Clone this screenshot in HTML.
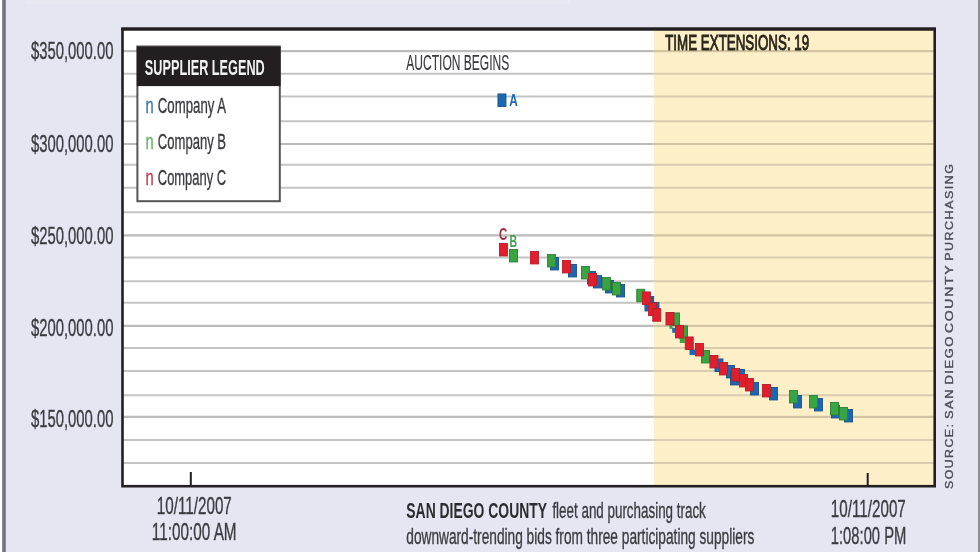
<!DOCTYPE html><html><head><meta charset="utf-8"><title>San Diego County reverse auction bids</title><style>
html,body{margin:0;padding:0;background:#e6e6f2;}body{width:980px;height:552px;overflow:hidden;position:relative;}
svg{position:absolute;left:0;top:0;display:block}
text{font-family:"Liberation Sans",Arial,sans-serif;}
</style></head><body>
<svg width="980" height="552" viewBox="0 0 980 552">
<rect x="0" y="0" width="980" height="552" fill="#e6e6f2"/>
<rect x="0" y="0" width="2.2" height="552" fill="#ffffff"/>
<rect x="2.2" y="0" width="3.6" height="552" fill="#74757c"/>
<rect x="978" y="0" width="2" height="552" fill="#8e8f96"/>
<rect x="25" y="0" width="545" height="4" fill="#e9e9f4"/>
<rect x="122.5" y="29" width="812.2" height="457.2" fill="#ffffff"/>
<rect x="653.8" y="29" width="280.9" height="457.2" fill="#fdf0c9"/>
<line x1="122.5" y1="51.2" x2="653.8" y2="51.2" stroke="#bcbcbc" stroke-width="2.2"/>
<line x1="653.8" y1="51.2" x2="934.7" y2="51.2" stroke="#d2c3a3" stroke-width="2.2"/>
<line x1="122.5" y1="73.8" x2="653.8" y2="73.8" stroke="#c4c4c4" stroke-width="2"/>
<line x1="653.8" y1="73.8" x2="934.7" y2="73.8" stroke="#d9cbad" stroke-width="2"/>
<line x1="122.5" y1="96.6" x2="653.8" y2="96.6" stroke="#c4c4c4" stroke-width="2"/>
<line x1="653.8" y1="96.6" x2="934.7" y2="96.6" stroke="#d9cbad" stroke-width="2"/>
<line x1="122.5" y1="121.2" x2="653.8" y2="121.2" stroke="#c4c4c4" stroke-width="2"/>
<line x1="653.8" y1="121.2" x2="934.7" y2="121.2" stroke="#d9cbad" stroke-width="2"/>
<line x1="122.5" y1="144.0" x2="653.8" y2="144.0" stroke="#bcbcbc" stroke-width="2.2"/>
<line x1="653.8" y1="144.0" x2="934.7" y2="144.0" stroke="#d2c3a3" stroke-width="2.2"/>
<line x1="122.5" y1="164.8" x2="653.8" y2="164.8" stroke="#c4c4c4" stroke-width="2"/>
<line x1="653.8" y1="164.8" x2="934.7" y2="164.8" stroke="#d9cbad" stroke-width="2"/>
<line x1="122.5" y1="187.8" x2="653.8" y2="187.8" stroke="#c4c4c4" stroke-width="2"/>
<line x1="653.8" y1="187.8" x2="934.7" y2="187.8" stroke="#d9cbad" stroke-width="2"/>
<line x1="122.5" y1="212.3" x2="653.8" y2="212.3" stroke="#c4c4c4" stroke-width="2"/>
<line x1="653.8" y1="212.3" x2="934.7" y2="212.3" stroke="#d9cbad" stroke-width="2"/>
<line x1="122.5" y1="235.3" x2="653.8" y2="235.3" stroke="#bcbcbc" stroke-width="2.2"/>
<line x1="653.8" y1="235.3" x2="934.7" y2="235.3" stroke="#d2c3a3" stroke-width="2.2"/>
<line x1="122.5" y1="257.6" x2="653.8" y2="257.6" stroke="#c4c4c4" stroke-width="2"/>
<line x1="653.8" y1="257.6" x2="934.7" y2="257.6" stroke="#d9cbad" stroke-width="2"/>
<line x1="122.5" y1="281.2" x2="653.8" y2="281.2" stroke="#c4c4c4" stroke-width="2"/>
<line x1="653.8" y1="281.2" x2="934.7" y2="281.2" stroke="#d9cbad" stroke-width="2"/>
<line x1="122.5" y1="302.7" x2="653.8" y2="302.7" stroke="#c4c4c4" stroke-width="2"/>
<line x1="653.8" y1="302.7" x2="934.7" y2="302.7" stroke="#d9cbad" stroke-width="2"/>
<line x1="122.5" y1="325.9" x2="653.8" y2="325.9" stroke="#bcbcbc" stroke-width="2.2"/>
<line x1="653.8" y1="325.9" x2="934.7" y2="325.9" stroke="#d2c3a3" stroke-width="2.2"/>
<line x1="122.5" y1="347.9" x2="653.8" y2="347.9" stroke="#c4c4c4" stroke-width="2"/>
<line x1="653.8" y1="347.9" x2="934.7" y2="347.9" stroke="#d9cbad" stroke-width="2"/>
<line x1="122.5" y1="371.1" x2="653.8" y2="371.1" stroke="#c4c4c4" stroke-width="2"/>
<line x1="653.8" y1="371.1" x2="934.7" y2="371.1" stroke="#d9cbad" stroke-width="2"/>
<line x1="122.5" y1="395.2" x2="653.8" y2="395.2" stroke="#c4c4c4" stroke-width="2"/>
<line x1="653.8" y1="395.2" x2="934.7" y2="395.2" stroke="#d9cbad" stroke-width="2"/>
<line x1="122.5" y1="416.8" x2="653.8" y2="416.8" stroke="#bcbcbc" stroke-width="2.2"/>
<line x1="653.8" y1="416.8" x2="934.7" y2="416.8" stroke="#d2c3a3" stroke-width="2.2"/>
<line x1="122.5" y1="440.0" x2="653.8" y2="440.0" stroke="#c4c4c4" stroke-width="2"/>
<line x1="653.8" y1="440.0" x2="934.7" y2="440.0" stroke="#d9cbad" stroke-width="2"/>
<line x1="122.5" y1="463.0" x2="653.8" y2="463.0" stroke="#c4c4c4" stroke-width="2"/>
<line x1="653.8" y1="463.0" x2="934.7" y2="463.0" stroke="#d9cbad" stroke-width="2"/>
<rect x="122.5" y="29" width="812.2" height="457.2" fill="none" stroke="#231f20" stroke-width="2.6"/>
<rect x="121.2" y="27.4" width="814.8" height="3.2" fill="#231f20"/>
<rect x="189.8" y="472" width="2" height="14" fill="#231f20"/>
<rect x="866.7" y="473" width="2" height="13" fill="#231f20"/>
<text x="31" y="59.2" font-size="24.8" fill="#3b3b40" stroke="#3b3b40" stroke-width="0.35" textLength="82.5" lengthAdjust="spacingAndGlyphs">$350,000.00</text>
<text x="31" y="152" font-size="24.8" fill="#3b3b40" stroke="#3b3b40" stroke-width="0.35" textLength="82.5" lengthAdjust="spacingAndGlyphs">$300,000.00</text>
<text x="31" y="243.5" font-size="24.8" fill="#3b3b40" stroke="#3b3b40" stroke-width="0.35" textLength="82.5" lengthAdjust="spacingAndGlyphs">$250,000.00</text>
<text x="31" y="335.7" font-size="24.8" fill="#3b3b40" stroke="#3b3b40" stroke-width="0.35" textLength="82.5" lengthAdjust="spacingAndGlyphs">$200,000.00</text>
<text x="31" y="427" font-size="24.8" fill="#3b3b40" stroke="#3b3b40" stroke-width="0.35" textLength="82.5" lengthAdjust="spacingAndGlyphs">$150,000.00</text>
<rect x="137.4" y="46.5" width="142.4" height="154.7" fill="#ffffff" stroke="#555558" stroke-width="2"/>
<rect x="136.8" y="46.6" width="143.8" height="39.5" fill="#231f20"/>
<text x="144.8" y="75.2" font-size="22" font-weight="bold" fill="#f2f2f2" textLength="120" lengthAdjust="spacingAndGlyphs">SUPPLIER LEGEND</text>
<text x="145.5" y="112.7" font-size="22" fill="#3a78b0" stroke="#3a78b0" stroke-width="0.35" textLength="8.2" lengthAdjust="spacingAndGlyphs">n</text>
<text x="157.8" y="112.7" font-size="22" fill="#3b3b40" stroke="#3b3b40" stroke-width="0.35" textLength="68.3" lengthAdjust="spacingAndGlyphs">Company A</text>
<text x="145.5" y="148.7" font-size="22" fill="#66b566" stroke="#66b566" stroke-width="0.35" textLength="8.2" lengthAdjust="spacingAndGlyphs">n</text>
<text x="157.8" y="148.7" font-size="22" fill="#3b3b40" stroke="#3b3b40" stroke-width="0.35" textLength="68.3" lengthAdjust="spacingAndGlyphs">Company B</text>
<text x="145.5" y="184.7" font-size="22" fill="#c43c4b" stroke="#c43c4b" stroke-width="0.35" textLength="8.2" lengthAdjust="spacingAndGlyphs">n</text>
<text x="157.8" y="184.7" font-size="22" fill="#3b3b40" stroke="#3b3b40" stroke-width="0.35" textLength="68.3" lengthAdjust="spacingAndGlyphs">Company C</text>
<text x="406.3" y="70.2" font-size="22.8" fill="#3b3b40" stroke="#3b3b40" stroke-width="0.15" textLength="103" lengthAdjust="spacingAndGlyphs">AUCTION BEGINS</text>
<text x="665.2" y="49.8" font-size="22.6" fill="#2a2519" stroke="#2a2519" stroke-width="1" textLength="144" lengthAdjust="spacingAndGlyphs">TIME EXTENSIONS: 19</text>
<text x="156.8" y="514" font-size="24" fill="#3b3b40" stroke="#3b3b40" stroke-width="0.35" textLength="75" lengthAdjust="spacingAndGlyphs">10/11/2007</text>
<text x="151.8" y="539.8" font-size="24" fill="#3b3b40" stroke="#3b3b40" stroke-width="0.35" textLength="84.8" lengthAdjust="spacingAndGlyphs">11:00:00 AM</text>
<text x="830.8" y="517.4" font-size="24" fill="#3b3b40" stroke="#3b3b40" stroke-width="0.35" textLength="75" lengthAdjust="spacingAndGlyphs">10/11/2007</text>
<text x="830.8" y="543.6" font-size="24" fill="#3b3b40" stroke="#3b3b40" stroke-width="0.35" textLength="75.5" lengthAdjust="spacingAndGlyphs">1:08:00 PM</text>
<text x="406.3" y="518" font-size="21.3" font-weight="bold" fill="#2b2b30" textLength="140.8" lengthAdjust="spacingAndGlyphs">SAN DIEGO COUNTY</text>
<text x="552.4" y="518" font-size="21.3" fill="#3b3b40" stroke="#3b3b40" stroke-width="0.35" textLength="153.4" lengthAdjust="spacingAndGlyphs">fleet and purchasing track</text>
<text x="406.3" y="543.5" font-size="21.3" fill="#3b3b40" stroke="#3b3b40" stroke-width="0.35" textLength="348" lengthAdjust="spacingAndGlyphs">downward-trending bids from three participating suppliers</text>
<text transform="translate(953.3,489) rotate(-90)" x="0" y="0" font-size="10.2" fill="#4c4c57" stroke="#4c4c57" stroke-width="0.35" letter-spacing="1.2" textLength="66.4" lengthAdjust="spacingAndGlyphs">SOURCE:</text>
<text transform="translate(953.3,419) rotate(-90)" x="0" y="0" font-size="10.2" fill="#4c4c57" stroke="#4c4c57" stroke-width="0.35" letter-spacing="1.2" textLength="31" lengthAdjust="spacingAndGlyphs">SAN</text>
<text transform="translate(953.3,384.6) rotate(-90)" x="0" y="0" font-size="10.2" fill="#4c4c57" stroke="#4c4c57" stroke-width="0.35" letter-spacing="1.2" textLength="49.6" lengthAdjust="spacingAndGlyphs">DIEGO</text>
<text transform="translate(953.3,333) rotate(-90)" x="0" y="0" font-size="10.2" fill="#4c4c57" stroke="#4c4c57" stroke-width="0.35" letter-spacing="1.2" textLength="69.2" lengthAdjust="spacingAndGlyphs">COUNTY</text>
<text transform="translate(953.3,260.8) rotate(-90)" x="0" y="0" font-size="10.2" fill="#4c4c57" stroke="#4c4c57" stroke-width="0.35" letter-spacing="1.2" textLength="98.2" lengthAdjust="spacingAndGlyphs">PURCHASING</text>
<rect x="550.45" y="257.45" width="8" height="12.5" fill="#1c68b0" stroke="#1a508c" stroke-width="0.9"/>
<rect x="568.45" y="264.45" width="8" height="12.5" fill="#1c68b0" stroke="#1a508c" stroke-width="0.9"/>
<rect x="587.45" y="271.45" width="8" height="12.5" fill="#1c68b0" stroke="#1a508c" stroke-width="0.9"/>
<rect x="593.45" y="275.45" width="8" height="12.5" fill="#1c68b0" stroke="#1a508c" stroke-width="0.9"/>
<rect x="605.45" y="280.45" width="8" height="12.5" fill="#1c68b0" stroke="#1a508c" stroke-width="0.9"/>
<rect x="616.45" y="284.45" width="8" height="12.5" fill="#1c68b0" stroke="#1a508c" stroke-width="0.9"/>
<rect x="645.65" y="296.45" width="8" height="12.5" fill="#1c68b0" stroke="#1a508c" stroke-width="0.9"/>
<rect x="650.95" y="302.45" width="8" height="12.5" fill="#1c68b0" stroke="#1a508c" stroke-width="0.9"/>
<rect x="644.95" y="298.45" width="8" height="12.5" fill="#1c68b0" stroke="#1a508c" stroke-width="0.9"/>
<rect x="714.95" y="358.95" width="8" height="12.5" fill="#1c68b0" stroke="#1a508c" stroke-width="0.9"/>
<rect x="726.45" y="365.45" width="8" height="12.5" fill="#1c68b0" stroke="#1a508c" stroke-width="0.9"/>
<rect x="730.45" y="372.45" width="8" height="12.5" fill="#1c68b0" stroke="#1a508c" stroke-width="0.9"/>
<rect x="736.45" y="369.45" width="8" height="12.5" fill="#1c68b0" stroke="#1a508c" stroke-width="0.9"/>
<rect x="750.45" y="382.45" width="8" height="12.5" fill="#1c68b0" stroke="#1a508c" stroke-width="0.9"/>
<rect x="769.45" y="387.45" width="8" height="12.5" fill="#1c68b0" stroke="#1a508c" stroke-width="0.9"/>
<rect x="793.45" y="395.45" width="8" height="12.5" fill="#1c68b0" stroke="#1a508c" stroke-width="0.9"/>
<rect x="814.45" y="398.45" width="8" height="12.5" fill="#1c68b0" stroke="#1a508c" stroke-width="0.9"/>
<rect x="831.45" y="405.45" width="8" height="12.5" fill="#1c68b0" stroke="#1a508c" stroke-width="0.9"/>
<rect x="844.45" y="409.45" width="8" height="12.5" fill="#1c68b0" stroke="#1a508c" stroke-width="0.9"/>
<rect x="497.95" y="93.95" width="8" height="12.5" fill="#1c68b0" stroke="#1a508c" stroke-width="0.9"/>
<rect x="509.45" y="249.45" width="8" height="12.5" fill="#38a442" stroke="#2b8035" stroke-width="0.9"/>
<rect x="547.45" y="254.45" width="8" height="12.5" fill="#38a442" stroke="#2b8035" stroke-width="0.9"/>
<rect x="581.45" y="266.45" width="8" height="12.5" fill="#38a442" stroke="#2b8035" stroke-width="0.9"/>
<rect x="602.45" y="277.45" width="8" height="12.5" fill="#38a442" stroke="#2b8035" stroke-width="0.9"/>
<rect x="612.45" y="282.45" width="8" height="12.5" fill="#38a442" stroke="#2b8035" stroke-width="0.9"/>
<rect x="636.75" y="289.25" width="8" height="12.5" fill="#38a442" stroke="#2b8035" stroke-width="0.9"/>
<rect x="671.45" y="312.95" width="8" height="12.5" fill="#38a442" stroke="#2b8035" stroke-width="0.9"/>
<rect x="679.45" y="325.95" width="8" height="12.5" fill="#38a442" stroke="#2b8035" stroke-width="0.9"/>
<rect x="701.45" y="350.45" width="8" height="12.5" fill="#38a442" stroke="#2b8035" stroke-width="0.9"/>
<rect x="789.45" y="390.45" width="8" height="12.5" fill="#38a442" stroke="#2b8035" stroke-width="0.9"/>
<rect x="809.45" y="395.45" width="8" height="12.5" fill="#38a442" stroke="#2b8035" stroke-width="0.9"/>
<rect x="830.45" y="402.45" width="8" height="12.5" fill="#38a442" stroke="#2b8035" stroke-width="0.9"/>
<rect x="839.45" y="407.45" width="8" height="12.5" fill="#38a442" stroke="#2b8035" stroke-width="0.9"/>
<rect x="669.5" y="325" width="3" height="3.8" fill="#38a442"/>
<rect x="672.2" y="327.8" width="2.8" height="5" fill="#1c68b0"/>
<rect x="679.8" y="338" width="5" height="5" fill="#38a442"/>
<rect x="689.5" y="349.5" width="5.5" height="5.5" fill="#1c68b0"/>
<rect x="499.45" y="243.45" width="8" height="12.5" fill="#e01f2d" stroke="#b81d2b" stroke-width="0.9"/>
<rect x="530.45" y="251.45" width="8" height="12.5" fill="#e01f2d" stroke="#b81d2b" stroke-width="0.9"/>
<rect x="562.45" y="260.45" width="8" height="12.5" fill="#e01f2d" stroke="#b81d2b" stroke-width="0.9"/>
<rect x="588.45" y="273.45" width="8" height="12.5" fill="#e01f2d" stroke="#b81d2b" stroke-width="0.9"/>
<rect x="642.45" y="291.95" width="8" height="12.5" fill="#e01f2d" stroke="#b81d2b" stroke-width="0.9"/>
<rect x="648.45" y="302.95" width="8" height="12.5" fill="#e01f2d" stroke="#b81d2b" stroke-width="0.9"/>
<rect x="652.75" y="308.75" width="8" height="12.5" fill="#e01f2d" stroke="#b81d2b" stroke-width="0.9"/>
<rect x="665.95" y="312.45" width="8" height="12.5" fill="#e01f2d" stroke="#b81d2b" stroke-width="0.9"/>
<rect x="675.45" y="325.45" width="8" height="12.5" fill="#e01f2d" stroke="#b81d2b" stroke-width="0.9"/>
<rect x="685.25" y="336.95" width="8" height="12.5" fill="#e01f2d" stroke="#b81d2b" stroke-width="0.9"/>
<rect x="695.45" y="343.45" width="8" height="12.5" fill="#e01f2d" stroke="#b81d2b" stroke-width="0.9"/>
<rect x="709.95" y="355.45" width="8" height="12.5" fill="#e01f2d" stroke="#b81d2b" stroke-width="0.9"/>
<rect x="719.45" y="362.45" width="8" height="12.5" fill="#e01f2d" stroke="#b81d2b" stroke-width="0.9"/>
<rect x="731.45" y="368.45" width="8" height="12.5" fill="#e01f2d" stroke="#b81d2b" stroke-width="0.9"/>
<rect x="739.45" y="374.45" width="8" height="12.5" fill="#e01f2d" stroke="#b81d2b" stroke-width="0.9"/>
<rect x="745.45" y="378.45" width="8" height="12.5" fill="#e01f2d" stroke="#b81d2b" stroke-width="0.9"/>
<rect x="762.45" y="384.45" width="8" height="12.5" fill="#e01f2d" stroke="#b81d2b" stroke-width="0.9"/>
<text x="509.3" y="105.7" font-size="16.5" font-weight="bold" fill="#1c68b0" textLength="8.5" lengthAdjust="spacingAndGlyphs">A</text>
<text x="499" y="239.7" font-size="16.5" font-weight="bold" fill="#a52f3e" textLength="8.2" lengthAdjust="spacingAndGlyphs">C</text>
<text x="509.6" y="246.6" font-size="16.5" font-weight="bold" fill="#3f9f4c" textLength="7.6" lengthAdjust="spacingAndGlyphs">B</text>
</svg></body></html>
